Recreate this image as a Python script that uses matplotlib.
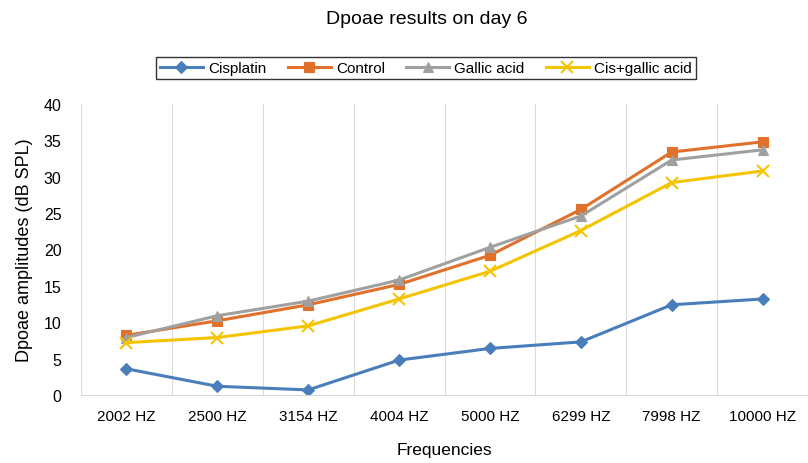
import matplotlib
matplotlib.use("Agg")
import matplotlib.pyplot as plt
import numpy as np

plt.rcParams["font.family"] = ["Liberation Sans", "DejaVu Sans"]

frequencies = ["2002 HZ", "2500 HZ", "3154 HZ", "4004 HZ", "5000 HZ", "6299 HZ", "7998 HZ", "10000 HZ"]
cisplatin = [3.6, 1.2, 0.7, 4.8, 6.4, 7.3, 12.4, 13.2]
control = [8.2, 10.2, 12.4, 15.2, 19.2, 25.5, 33.4, 34.8]
gallic_acid = [7.9, 10.9, 12.9, 15.8, 20.3, 24.6, 32.3, 33.7]
cis_gallic = [7.2, 7.9, 9.5, 13.2, 17.0, 22.6, 29.2, 30.8]

series = [
    ("Cisplatin", cisplatin, "#4a7ebb", "D", 6.5),
    ("Control", control, "#e0702a", "s", 7),
    ("Gallic acid", gallic_acid, "#a0a0a0", "^", 7.5),
    ("Cis+gallic acid", cis_gallic, "#f5c400", "x", 8),
]

fig = plt.figure(figsize=(8.08, 4.64), dpi=100)
ax = fig.add_axes([81 / 808, 1 - 396 / 464, 727 / 808, (396 - 105) / 464])

x = np.arange(len(frequencies))
for name, vals, color, marker, ms in series:
    ax.plot(x, vals, color=color, linewidth=2.2, marker=marker, markersize=ms,
            markeredgewidth=1.5 if marker == "x" else 0.8, markeredgecolor=color,
            label=name)

ax.set_ylim(0, 40)
ax.set_xlim(-0.5, 7.5 - 6 / 91.6)
ax.set_yticks(np.arange(0, 41, 5))
ax.set_xticks(x)
ax.set_xticklabels(frequencies, fontsize=11)
ax.set_xticks(np.arange(-0.5, 8, 1), minor=True)
ax.tick_params(axis="both", which="both", length=0)
ax.tick_params(axis="x", pad=10)
ax.tick_params(axis="y", labelsize=11.5, pad=14)
ax.grid(axis="x", which="minor", color="#dcdcdc", linewidth=0.8)
ax.grid(axis="x", which="major", visible=False)
for side in ["top", "right", "left"]:
    ax.spines[side].set_visible(False)
ax.spines["bottom"].set_color("#d9d9d9")

ax.set_ylabel("Dpoae amplitudes (dB SPL)", fontsize=13, labelpad=8)
ax.set_xlabel("Frequencies", fontsize=12.5, labelpad=14)

fig.text(427 / 808, 1 - 19 / 464, "Dpoae results on day 6", ha="center", va="center", fontsize=14)
fig.legend(loc="center", bbox_to_anchor=(426 / 808, 1 - 69 / 464), ncol=4, fontsize=11,
           frameon=True, fancybox=False, edgecolor="black", handlelength=2.8,
           columnspacing=1.4, handletextpad=0.35, borderpad=0.25)

fig.savefig("out.png", dpi=100)
